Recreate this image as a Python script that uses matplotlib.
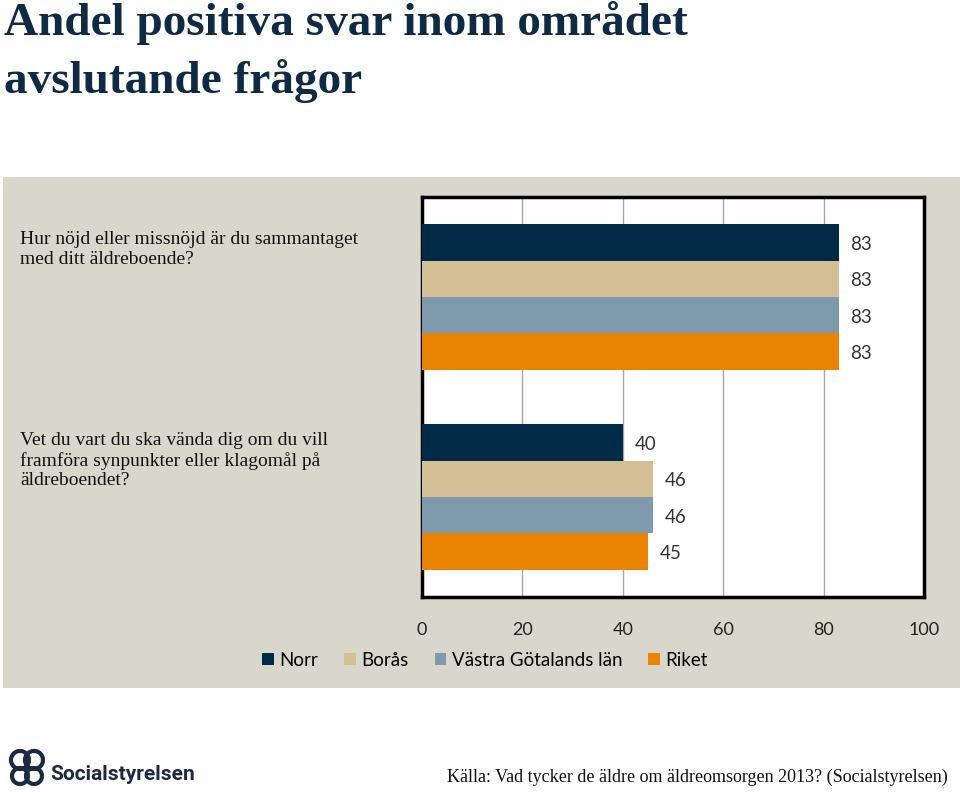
import matplotlib
matplotlib.use("Agg")
import matplotlib.pyplot as plt
from matplotlib.patches import Rectangle, Arc
import numpy as np

# ---- data ----
questions = [
    "Hur nöjd eller missnöjd är du sammantaget\nmed ditt äldreboende?",
    "Vet du vart du ska vända dig om du vill\nframföra synpunkter eller klagomål på\näldreboendet?",
]
series = ["Norr", "Borås", "Västra Götalands län", "Riket"]
norr = [83, 40]
boras = [83, 46]
vgl = [83, 46]
riket = [83, 45]
xticks = [0, 20, 40, 60, 80, 100]

colors = ["#002A45", "#D4BF95", "#7F9AAD", "#E98300"]
panel = "#D9D7CB"
navy = "#0F2A44"

W, H = 960, 792
fig = plt.figure(figsize=(W / 100, H / 100), dpi=100)
fig.patch.set_facecolor("white")

def fx(px):
    return px / W

def fy(py):
    return 1 - py / H

# grey panel
fig.patches.append(Rectangle((fx(3), fy(688)), fx(960) - fx(3), fy(177) - fy(688),
                             transform=fig.transFigure, facecolor=panel, edgecolor="none", zorder=-5))

# title
fig.text(fx(4), fy(23), "Andel positiva svar inom området", fontsize=34, fontweight="bold",
         family="Liberation Serif", color=navy, va="center", ha="left")
fig.text(fx(4), fy(81), "avslutande frågor", fontsize=34, fontweight="bold",
         family="Liberation Serif", color=navy, va="center", ha="left")

# axes
ax = fig.add_axes([fx(422), fy(597), fx(924) - fx(422), fy(197) - fy(597)])
ax.set_zorder(2)
ax.set_facecolor("white")
data = [norr, boras, vgl, riket]
h = 0.182
y = np.arange(len(questions))
for i, (vals, c) in enumerate(zip(data, colors)):
    pos = y + (i - 1.5) * h
    ax.barh(pos, vals, height=h, color=c, edgecolor="none", label=series[i], zorder=3)
    for p, v in zip(pos, vals):
        ax.text(v + 2.3, p + 0.01, f"{v}", va="center", ha="left", fontsize=13.5,
                family="Lato", color="#333333", zorder=4)
ax.set_xlim(0, 100)
ax.set_ylim(len(questions) - 0.5, -0.5)
ax.set_xticks(xticks)
ax.set_xticklabels([str(t) for t in xticks], family="Lato", fontsize=13, color="#222222")
ax.tick_params(axis="x", length=0, pad=18)
ax.set_yticks([])
ax.grid(axis="x", color="#A6A6A6", linewidth=1, zorder=1)
for s in ax.spines.values():
    s.set_color("black")
    s.set_linewidth(2.5)

# question labels
qy = [231, 432]
for q, yy in zip(questions, qy):
    fig.text(fx(20), fy(yy), q, fontsize=14, family="Liberation Serif", color="#111111",
             va="top", ha="left", linespacing=1.2)

# legend
handles, labels = ax.get_legend_handles_labels()
leg = fig.legend(handles, labels, loc="center", bbox_to_anchor=(fx(485), fy(660)), ncol=4,
                 frameon=False, prop={"family": "Lato", "size": 13.5}, handlelength=0.6,
                 handleheight=0.6, handletextpad=0.3, columnspacing=1.4)

# source
fig.text(fx(948), fy(777), "Källa: Vad tycker de äldre om äldreomsorgen 2013? (Socialstyrelsen)",
         fontsize=13, family="Liberation Serif", color="#111111", ha="right", va="center")

# logo
fig.text(fx(50), fy(775), "Socialstyrelsen", fontsize=15, fontweight="bold",
         family="Roboto", color="#1B2A41", ha="left", va="center")
lax = fig.add_axes([fx(4), fy(788), fx(46), fy(745) - fy(788)])
lax.set_xlim(0, 46)
lax.set_ylim(0, 43)
lax.axis("off")
for cx, cy, r in [(16, 28, 9), (30, 28, 9), (16, 12, 8), (30, 12, 8)]:
    lax.add_patch(Arc((cx, cy), 2 * r, 2 * r, linewidth=3, color="#1B2A41"))

fig.savefig("out.png", dpi=100, facecolor="white")
